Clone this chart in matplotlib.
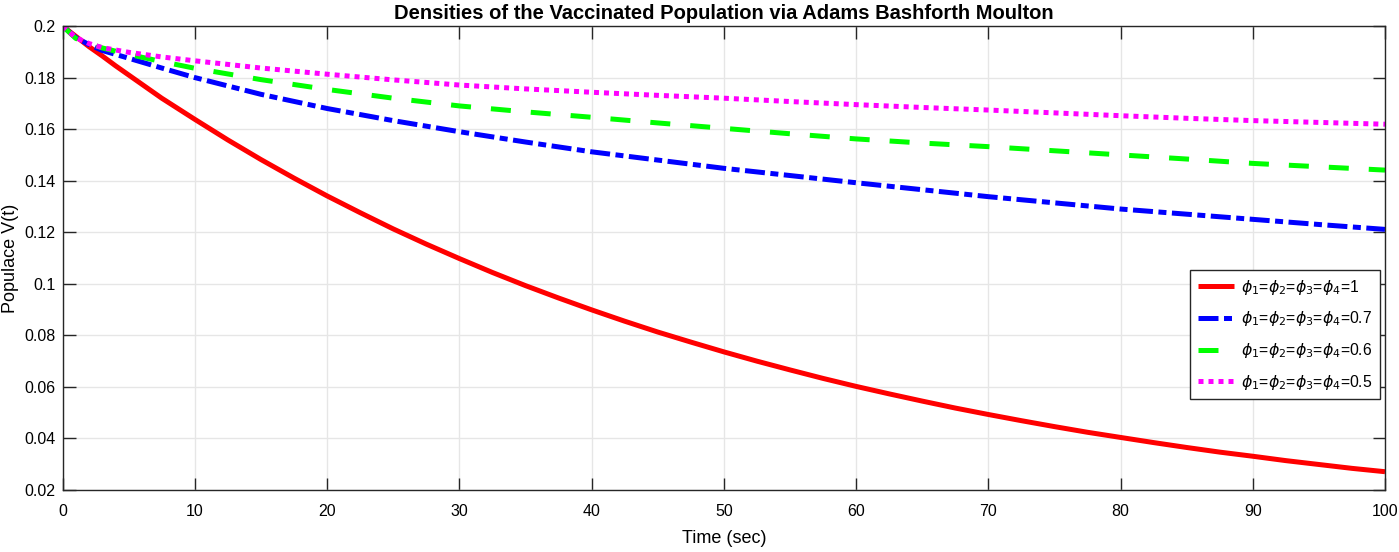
import matplotlib
matplotlib.use("Agg")
import matplotlib.pyplot as plt

plt.rcParams['font.family'] = ['Liberation Sans', 'DejaVu Sans']
plt.rcParams['mathtext.fontset'] = 'dejavusans'

t = [0, 1, 2, 3, 5, 7.5, 10, 15, 20, 25, 30, 35, 40, 45, 50, 55, 60, 65, 70, 75, 80, 85, 90, 95, 100]
t_red = [0, 1, 2, 3, 4, 5, 6, 7.5, 10, 12.5, 15, 17.5, 20, 22.5, 25, 27.5, 30, 32.5, 35, 37.5, 40, 42.5, 45,
         47.5, 50, 52.5, 55, 57.5, 60, 62.5, 65, 67.5, 70, 72.5, 75, 77.5, 80, 82.5, 85, 87.5, 90, 92.5, 95,
         97.5, 100]
v_phi1 = [0.2, 0.196, 0.192, 0.1884, 0.1846, 0.181, 0.1774, 0.172, 0.1638, 0.1558, 0.1482, 0.141, 0.1341,
          0.1276, 0.1213, 0.1154, 0.1098, 0.1044, 0.0993, 0.0945, 0.0899, 0.0855, 0.0813, 0.0774, 0.0736,
          0.070, 0.0666, 0.0633, 0.0602, 0.0573, 0.0545, 0.0518, 0.0493, 0.0469, 0.0446, 0.0424, 0.0404,
          0.0384, 0.0365, 0.0347, 0.0331, 0.0314, 0.0299, 0.0284, 0.0271]
v_phi07 = [0.2, 0.1955, 0.1928, 0.1905, 0.1875, 0.1837, 0.180, 0.1735, 0.168, 0.1633, 0.159, 0.155, 0.1512,
           0.148, 0.1448, 0.142, 0.1392, 0.1365, 0.1338, 0.1314, 0.129, 0.127, 0.125, 0.123, 0.1211]
v_phi06 = [0.2, 0.1952, 0.1932, 0.1915, 0.189, 0.1862, 0.1836, 0.1792, 0.1754, 0.172, 0.169, 0.1667, 0.1646,
           0.1624, 0.1603, 0.1582, 0.1562, 0.1546, 0.1532, 0.1516, 0.150, 0.1484, 0.1467, 0.1454, 0.1441]
v_phi05 = [0.2, 0.1955, 0.1932, 0.1916, 0.1898, 0.188, 0.1865, 0.1837, 0.1813, 0.1791, 0.1771, 0.1756, 0.1743,
           0.1731, 0.172, 0.1707, 0.1695, 0.1684, 0.1674, 0.1663, 0.1652, 0.1642, 0.1633, 0.1626, 0.1619]

labels = [r'$\phi_1$=$\phi_2$=$\phi_3$=$\phi_4$=1',
          r'$\phi_1$=$\phi_2$=$\phi_3$=$\phi_4$=0.7',
          r'$\phi_1$=$\phi_2$=$\phi_3$=$\phi_4$=0.6',
          r'$\phi_1$=$\phi_2$=$\phi_3$=$\phi_4$=0.5']
xticks = [0, 10, 20, 30, 40, 50, 60, 70, 80, 90, 100]
yticks = [0.02, 0.04, 0.06, 0.08, 0.1, 0.12, 0.14, 0.16, 0.18, 0.2]
ytick_labels = ['0.02', '0.04', '0.06', '0.08', '0.1', '0.12', '0.14', '0.16', '0.18', '0.2']

fig = plt.figure(figsize=(13.99, 5.52), dpi=100)
ax = fig.add_axes([0.0447, 0.1123, 0.9453, 0.8406])

lw = 3.6
ax.plot(t_red, v_phi1, color='#ff0000', lw=lw, solid_capstyle='butt', label=labels[0])
ax.plot(t, v_phi07, color='#0000ff', lw=lw, dashes=(4, 1.1, 1.6, 1.1), dash_capstyle='butt', label=labels[1])
ax.plot(t, v_phi06, color='#00ff00', lw=lw, dashes=(4, 4), dash_capstyle='butt', label=labels[2])
ax.plot(t, v_phi05, color='#ff00ff', lw=lw, dashes=(1, 1), dash_capstyle='butt', label=labels[3])

ax.set_xlim(0, 100)
ax.set_ylim(0.02, 0.2)
ax.set_xticks(xticks)
ax.set_xticklabels([str(x) for x in xticks])
ax.set_yticks(yticks)
ax.set_yticklabels(ytick_labels)
ax.grid(True, color='#e6e6e6', lw=1)
ax.set_axisbelow(True)
ax.tick_params(direction='in', length=9, width=1, top=True, right=True, labelsize=11.5,
               color='#262626', labelcolor='black')
ax.tick_params(axis='x', pad=10)
ax.tick_params(axis='y', pad=5)
for s in ax.spines.values():
    s.set_color('#262626')
    s.set_linewidth(1)

ax.set_xlabel('Time (sec)', fontsize=13, labelpad=8)
ax.set_ylabel('Populace V(t)', fontsize=13, labelpad=4)
ax.set_title('Densities of the Vaccinated Population via Adams Bashforth Moulton',
             fontsize=14.5, fontweight='bold', pad=5)

leg = ax.legend(loc='upper right', bbox_to_anchor=(0.9962, 0.474), fontsize=11.3,
                frameon=True, fancybox=False, edgecolor='#262626', framealpha=1,
                handlelength=2.3, handletextpad=0.4, labelspacing=0.8, borderpad=0.5,
                borderaxespad=0)
leg.get_frame().set_linewidth(1)

fig.savefig('out.png', dpi=100)
